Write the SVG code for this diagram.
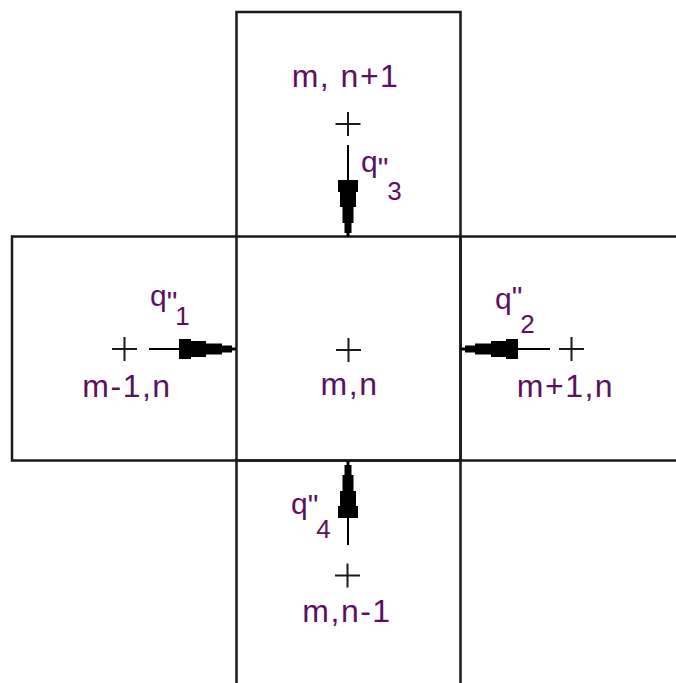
<svg xmlns="http://www.w3.org/2000/svg" width="676" height="683" viewBox="0 0 676 683">
<style>
.cell{fill:none;stroke:#1a1a1a;stroke-width:2.5}
.plus{stroke:#1a1a1a;stroke-width:2}
.lbl{font-family:"Liberation Sans",Arial,sans-serif;font-size:32px;fill:#5b1060;letter-spacing:1.5px}
.q{font-family:"Liberation Sans",Arial,sans-serif;font-size:30px;fill:#5b1060}
.sub{font-size:26px}
.shaft{stroke:#000;stroke-width:2}
.head{fill:#000}
</style>
<defs>
<path id="ah" d="M0,-1.5 L-4,-1.5 L-4,-3.5 L-14,-3.5 L-14,-5.5 L-30,-5.5 L-30,-8 L-45,-8 L-45,-10 L-57,-10 L-57,10 L-45,10 L-45,8 L-30,8 L-30,5.5 L-14,5.5 L-14,3.5 L-4,3.5 L-4,1.5 L0,1.5 Z"/>
<path id="plus" d="M-12.5,0 H12.5 M0,-12 V12"/>
</defs>
<rect width="676" height="683" fill="#fff"/>

<g id="cell-top">
<path class="cell" d="M236.5,236.5 V12 H460.5 V236.5"/>
<use href="#plus" class="plus" x="348" y="124"/>
<text class="lbl" x="345.5" y="87" text-anchor="middle">m, n+1</text>
</g>

<g id="cell-left">
<path class="cell" d="M236.5,236.5 H12 V460.5 H236.5"/>
<use href="#plus" class="plus" x="124.5" y="349"/>
<text class="lbl" x="127" y="397" text-anchor="middle">m-1,n</text>
</g>

<g id="cell-center">
<rect class="cell" x="236.5" y="236.5" width="224" height="224"/>
<use href="#plus" class="plus" x="348.5" y="350"/>
<text class="lbl" x="349.5" y="395" text-anchor="middle">m,n</text>
</g>

<g id="cell-right">
<path class="cell" d="M676,236.5 H460.5 V460.5 H676"/>
<use href="#plus" class="plus" x="571.5" y="349"/>
<text class="lbl" x="565.5" y="396.5" text-anchor="middle">m+1,n</text>
</g>

<g id="cell-bottom">
<path class="cell" d="M236.5,683 V460.5 H460.5 V683"/>
<use href="#plus" class="plus" x="347.5" y="575.5"/>
<text class="lbl" x="347" y="622" text-anchor="middle">m,n-1</text>
</g>

<g id="connectors">
<line class="shaft" x1="149" y1="349" x2="200" y2="349"/>
<use href="#ah" class="head" transform="translate(236,349)"/>
<line class="shaft" x1="550" y1="349" x2="500" y2="349"/>
<use href="#ah" class="head" transform="translate(461,349) rotate(180)"/>
<line class="shaft" x1="348" y1="145" x2="348" y2="200"/>
<use href="#ah" class="head" transform="translate(348,237) rotate(90)"/>
<line class="shaft" x1="348" y1="545" x2="348" y2="500"/>
<use href="#ah" class="head" transform="translate(348,461) rotate(-90)"/>
<text class="q" x="150" y="305.6">q<tspan dy="6">"</tspan><tspan class="sub" dx="-2" dy="13.4">1</tspan></text>
<text class="q" x="495" y="308.6">q<tspan dy="-2">"</tspan><tspan class="sub" dx="-2" dy="26.5">2</tspan></text>
<text class="q" x="361" y="172.3">q<tspan dy="6">"</tspan><tspan class="sub" dx="-1" dy="21.5">3</tspan></text>
<text class="q" x="291" y="513.6">q<tspan dy="1">"</tspan><tspan class="sub" dx="-2" dy="23.5">4</tspan></text>
</g>
</svg>
